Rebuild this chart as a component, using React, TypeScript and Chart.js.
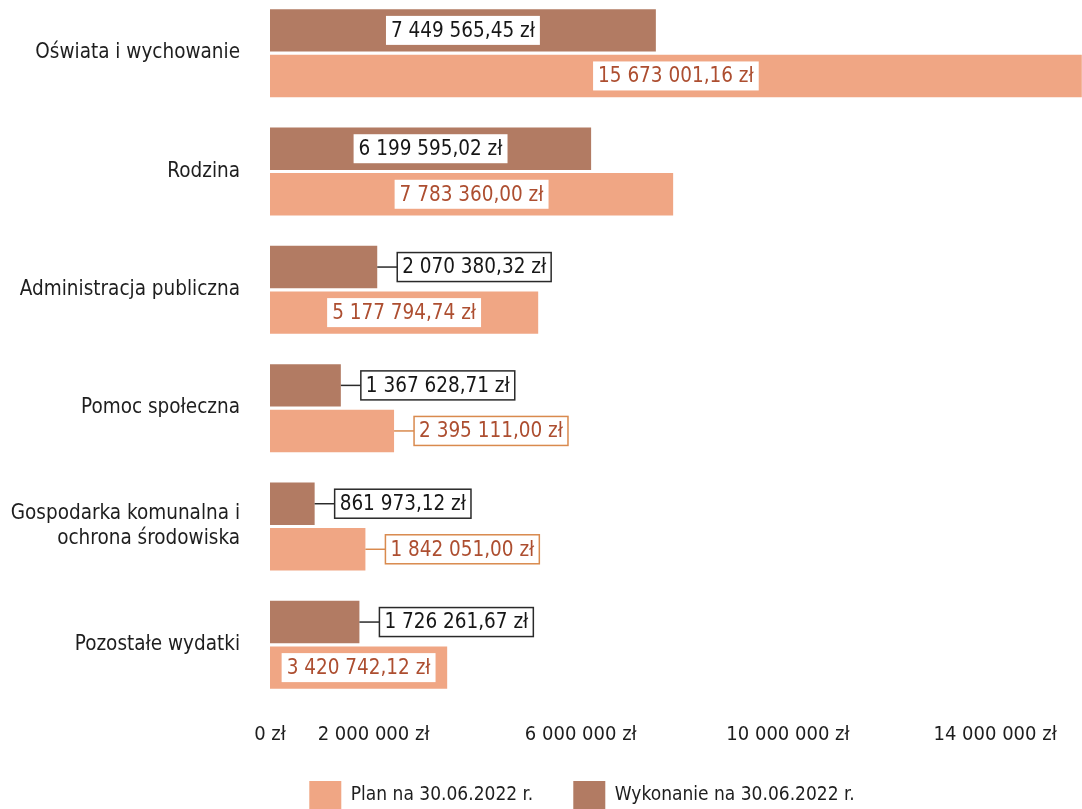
import React, { useEffect, useRef } from 'react';
import { Chart, registerables } from 'chart.js';

Chart.register(...registerables);

// ---- Data ----
const categories: (string | string[])[] = [
  'Oświata i wychowanie',
  'Rodzina',
  'Administracja publiczna',
  'Pomoc społeczna',
  ['Gospodarka komunalna i', 'ochrona środowiska'],
  'Pozostałe wydatki',
];
const wykonanieValues = [7449565.45, 6199595.02, 2070380.32, 1367628.71, 861973.12, 1726261.67];
const planValues = [15673001.16, 7783360.0, 5177794.74, 2395111.0, 1842051.0, 3420742.12];
const xTickLabelValues = [0, 2000000, 6000000, 10000000, 14000000];
const seriesWykonanie = 'Wykonanie na 30.06.2022 r.';
const seriesPlan = 'Plan na 30.06.2022 r.';

// ---- Styling ----
const FONT = '"DejaVu Sans Condensed", "DejaVu Sans", sans-serif';
const TEXT = '#1e1e1e';
const WYK_COLOR = '#b27b63';
const PLAN_COLOR = '#f0a684';
const CANVAS_W = 1164;
const CANVAS_H = 825;
const X_MAX = 17260000;
const LABEL_FONT_SIZE = 20.5;

function groupThousands(intStr: string): string {
  let out = '';
  let count = 0;
  for (let i = intStr.length - 1; i >= 0; i--) {
    out = intStr[i] + out;
    count++;
    if (count % 3 === 0 && i > 0) out = ' ' + out;
  }
  return out;
}

function fmtMoney(v: number): string {
  const fixed = v.toFixed(2);
  const [ip, dp] = fixed.split('.');
  return `${groupThousands(ip)},${dp} zł`;
}

function fmtTick(v: number): string {
  return `${groupThousands(String(Math.round(v)))} zł`;
}

const boxLabelPlugin = {
  id: 'boxLabels',
  afterDatasetsDraw(chart: any) {
    const ctx: CanvasRenderingContext2D = chart.ctx;
    ctx.save();
    ctx.font = `${LABEL_FONT_SIZE}px ${FONT}`;
    ctx.textBaseline = 'middle';
    ctx.textAlign = 'left';
    chart.data.datasets.forEach((ds: any, di: number) => {
      const meta = chart.getDatasetMeta(di);
      const isWyk = di === 0;
      const textColor = isWyk ? '#161616' : '#ad4e30';
      const lineColor = isWyk ? '#2a2a2a' : '#d98a4e';
      meta.data.forEach((bar: any, i: number) => {
        const { x, y, base } = bar.getProps(['x', 'y', 'base'], true);
        const text = fmtMoney(ds.data[i]);
        const tw = ctx.measureText(text).width;
        const bw = tw + 10;
        const bh = 29;
        const barLen = x - base;
        let bx: number;
        let outside = false;
        if (bw + 4 <= barLen) {
          bx = (x + base) / 2 - bw / 2;
        } else {
          bx = x + 20;
          outside = true;
        }
        const by = y - bh / 2;
        if (outside) {
          ctx.strokeStyle = lineColor;
          ctx.lineWidth = 1.5;
          ctx.beginPath();
          ctx.moveTo(x, y);
          ctx.lineTo(bx, y);
          ctx.stroke();
        }
        ctx.fillStyle = '#ffffff';
        ctx.fillRect(bx, by, bw, bh);
        if (outside) {
          ctx.strokeStyle = lineColor;
          ctx.lineWidth = 1.5;
          ctx.strokeRect(bx, by, bw, bh);
        }
        ctx.fillStyle = textColor;
        ctx.fillText(text, bx + 5, y + 1);
      });
    });
    ctx.restore();
  },
};

export default function App() {
  const canvasRef = useRef<HTMLCanvasElement | null>(null);

  useEffect(() => {
    if (!canvasRef.current) return;
    const chart = new Chart(canvasRef.current, {
      type: 'bar',
      data: {
        labels: categories as any,
        datasets: [
          {
            label: seriesWykonanie,
            data: wykonanieValues,
            backgroundColor: WYK_COLOR,
            borderWidth: 0,
            barPercentage: 0.93,
            categoryPercentage: 0.77,
          },
          {
            label: seriesPlan,
            data: planValues,
            backgroundColor: PLAN_COLOR,
            borderWidth: 0,
            barPercentage: 0.93,
            categoryPercentage: 0.77,
          },
        ],
      },
      options: {
        indexAxis: 'y',
        responsive: false,
        animation: false,
        layout: { padding: 0 },
        scales: {
          x: {
            min: 0,
            max: X_MAX,
            grid: { display: false, drawTicks: false },
            border: { display: false },
            ticks: {
              autoSkip: false,
              maxRotation: 0,
              minRotation: 0,
              padding: 19,
              color: TEXT,
              font: { family: FONT, size: 20 },
              callback: (v: any) => fmtTick(Number(v)),
            },
            afterBuildTicks: (s: any) => {
              s.ticks = xTickLabelValues.map((v) => ({ value: v }));
            },
            afterFit: (s: any) => {
              s.height = 37;
              s.paddingLeft = 0;
              s.paddingRight = 0;
            },
          } as any,
          y: {
            grid: { display: false, drawTicks: false },
            border: { display: false },
            ticks: {
              padding: 30,
              color: TEXT,
              font: { family: FONT, size: 20.5, lineHeight: 1.22 },
            },
            afterFit: (s: any) => {
              s.width = 270;
              s.paddingTop = 0;
              s.paddingBottom = 0;
            },
          } as any,
        },
        plugins: {
          legend: {
            position: 'bottom',
            reverse: true,
            labels: {
              boxWidth: 32,
              boxHeight: 28,
              padding: 40,
              color: TEXT,
              font: { family: FONT, size: 19 },
            },
          },
          tooltip: { enabled: false },
        },
      } as any,
      plugins: [boxLabelPlugin],
    });
    return () => chart.destroy();
  }, []);

  return (
    <div
      style={{
        position: 'fixed',
        left: 0,
        top: -6,
        width: CANVAS_W,
        height: CANVAS_H,
        background: '#ffffff',
      }}
    >
      <canvas ref={canvasRef} width={CANVAS_W} height={CANVAS_H} style={{ display: 'block' }} />
    </div>
  );
}
